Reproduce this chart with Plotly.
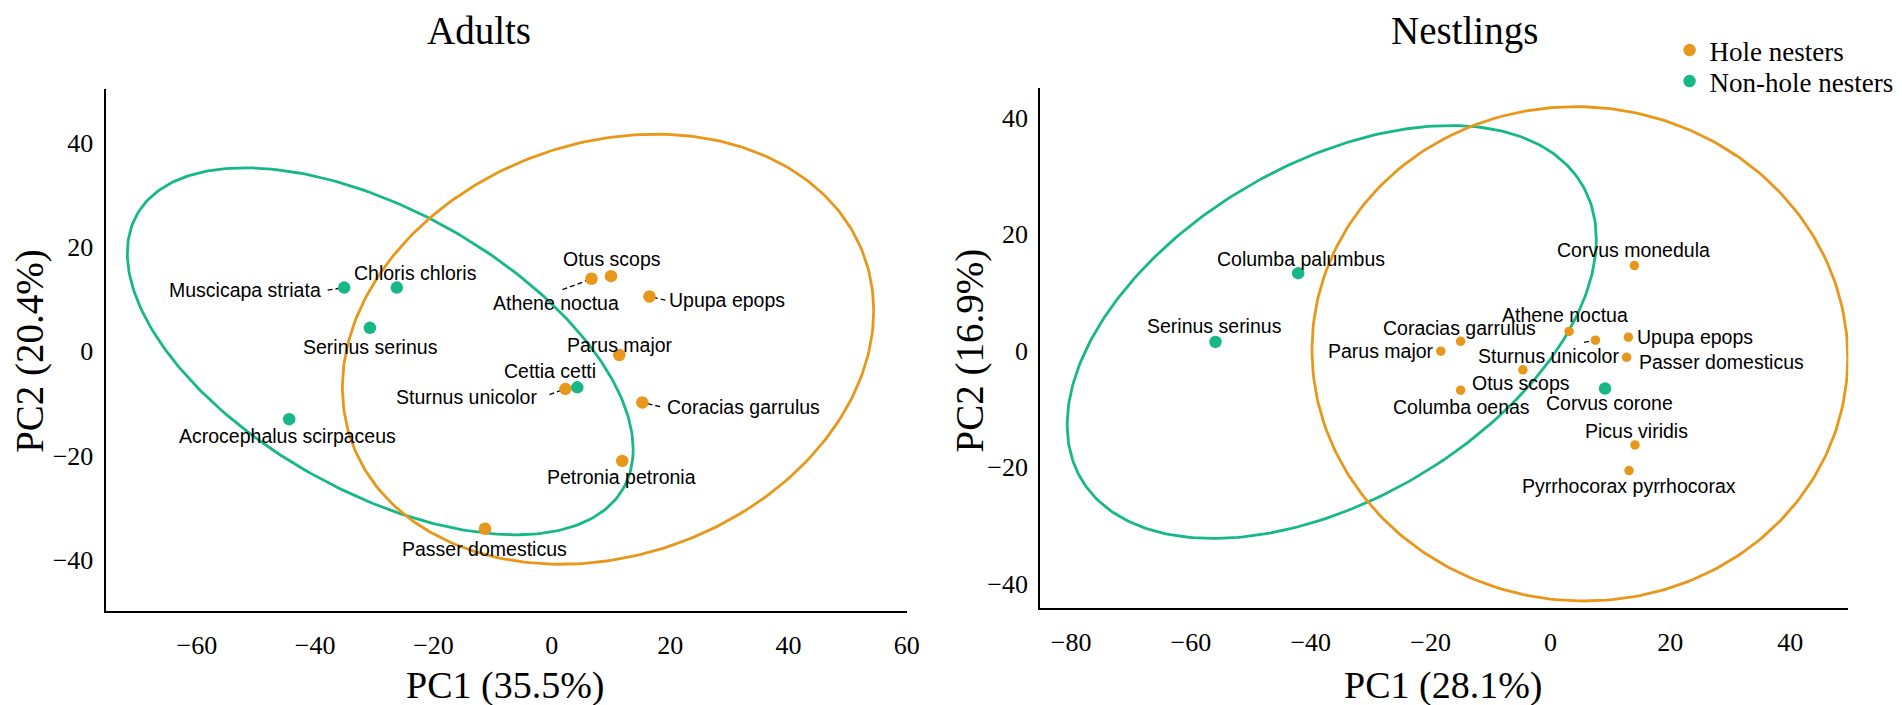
import numpy as np
import plotly.graph_objects as go

# ---------------- data ----------------
adult_hole_species = ["Athene noctua", "Otus scops", "Upupa epops", "Parus major",
                      "Sturnus unicolor", "Coracias garrulus", "Petronia petronia",
                      "Passer domesticus"]
adult_hole_pc1 = [6.7, 10.0, 16.5, 11.4, 2.3, 15.3, 11.9, -11.3]
adult_hole_pc2 = [13.9, 14.4, 10.5, -0.7, -7.2, -9.8, -21.0, -34.0]

adult_non_species = ["Muscicapa striata", "Chloris chloris", "Serinus serinus",
                     "Acrocephalus scirpaceus", "Cettia cetti"]
adult_non_pc1 = [-35.1, -26.2, -30.75, -44.4, 4.3]
adult_non_pc2 = [12.2, 12.2, 4.5, -13.0, -6.9]

nest_hole_species = ["Corvus monedula", "Athene noctua", "Sturnus unicolor", "Upupa epops",
                     "Passer domesticus", "Coracias garrulus", "Parus major", "Otus scops",
                     "Columba oenas", "Picus viridis", "Pyrrhocorax pyrrhocorax"]
nest_hole_pc1 = [14.0, 3.1, 7.5, 13.0, 12.7, -15.0, -18.3, -4.6, -15.0, 14.1, 13.1]
nest_hole_pc2 = [14.6, 3.3, 1.8, 2.3, -1.15, 1.6, -0.1, -3.3, -6.8, -16.2, -20.6]

nest_non_species = ["Columba palumbus", "Serinus serinus", "Corvus corone"]
nest_non_pc1 = [-42.1, -55.9, 9.1]
nest_non_pc2 = [13.3, 1.5, -6.5]

# ellipse estimates: centre x, centre y, var x, var y, cov xy
adult_hole_ellipse = [9.5, 0.4, 2016.0, 1697.0, 330.0]
adult_non_ellipse = [-29.0, 0.0, 1827.6, 1235.5, -803.7]
nest_hole_ellipse = [4.9, -0.55, 1998.0, 1802.0, -30.0]
nest_non_ellipse = [-36.5, 3.2, 1949.0, 1257.0, 703.0]

group_names = ["Hole nesters", "Non-hole nesters"]
panel_titles = ["Adults", "Nestlings"]
x_titles = ["PC1 (35.5%)", "PC1 (28.1%)"]
y_titles = ["PC2 (20.4%)", "PC2 (16.9%)"]
x_ticks = [[-60, -40, -20, 0, 20, 40, 60], [-80, -60, -40, -20, 0, 20, 40]]
y_ticks = [[-40, -20, 0, 20, 40], [-40, -20, 0, 20, 40]]

# ---------------- label placement (style) ----------------
adult_label_pos = {
    "Muscicapa striata": (-51.9, 11.7), "Chloris chloris": (-23.1, 15.0),
    "Serinus serinus": (-30.6, 0.9), "Acrocephalus scirpaceus": (-44.6, -16.2),
    "Cettia cetti": (-0.25, -3.8), "Sturnus unicolor": (-14.4, -8.8),
    "Otus scops": (10.1, 17.6), "Athene noctua": (0.7, 9.2),
    "Upupa epops": (29.6, 9.8), "Parus major": (11.5, 1.2),
    "Coracias garrulus": (32.4, -10.6), "Petronia petronia": (11.75, -24.1),
    "Passer domesticus": (-11.3, -37.8),
}
adult_leader_start = {
    "Muscicapa striata": (-37.9, 11.7), "Sturnus unicolor": (-0.4, -8.3),
    "Athene noctua": (1.8, 11.8), "Upupa epops": (19.2, 9.8),
    "Coracias garrulus": (18.3, -10.6),
}
nest_label_pos = {
    "Columba palumbus": (-41.7, 15.8), "Serinus serinus": (-56.1, 4.2),
    "Corvus corone": (9.9, -9.0), "Corvus monedula": (13.8, 17.2),
    "Athene noctua": (2.4, 6.2), "Sturnus unicolor": (-0.35, -1.0),
    "Upupa epops": (24.1, 2.3), "Passer domesticus": (28.6, -1.96),
    "Coracias garrulus": (-15.1, 3.8), "Parus major": (-28.2, -0.1),
    "Otus scops": (-5.0, -5.6), "Columba oenas": (-14.9, -9.6),
    "Picus viridis": (14.3, -13.8), "Pyrrhocorax pyrrhocorax": (13.1, -23.2),
}
nest_leader_start = {"Sturnus unicolor": (5.6, 1.4)}

ORANGE = "#E8971A"
GREEN = "#17B887"
SERIF = "Liberation Serif, Times New Roman, serif"
SANS = "Liberation Sans, Arial, sans-serif"
W, H = 1902, 705


def ellipse_xy(p, n=300):
    cx, cy, sxx, syy, sxy = p
    L = np.linalg.cholesky(np.array([[sxx, sxy], [sxy, syy]]))
    t = np.linspace(0, 2 * np.pi, n)
    pts = L @ np.vstack([np.cos(t), np.sin(t)])
    return cx + pts[0], cy + pts[1]


fig = go.Figure()

panels = [
    dict(xa="x", ya="y", hole=(adult_hole_species, adult_hole_pc1, adult_hole_pc2),
         non=(adult_non_species, adult_non_pc1, adult_non_pc2),
         eh=adult_hole_ellipse, en=adult_non_ellipse,
         lab=adult_label_pos, lead=adult_leader_start, ms_hole=12.5, ms_non=12.5, legend=True),
    dict(xa="x2", ya="y2", hole=(nest_hole_species, nest_hole_pc1, nest_hole_pc2),
         non=(nest_non_species, nest_non_pc1, nest_non_pc2),
         eh=nest_hole_ellipse, en=nest_non_ellipse,
         lab=nest_label_pos, lead=nest_leader_start, ms_hole=9.5, ms_non=12.5, legend=False),
]

annotations = []
for p in panels:
    for ell, col in ((p["en"], GREEN), (p["eh"], ORANGE)):
        ex, ey = ellipse_xy(ell)
        fig.add_trace(go.Scatter(x=ex, y=ey, mode="lines", xaxis=p["xa"], yaxis=p["ya"],
                                 line=dict(color=col, width=2.8), showlegend=False,
                                 hoverinfo="skip"))
    pts = {}
    for sp, xs, ys in (p["hole"], p["non"]):
        for s, x, y in zip(sp, xs, ys):
            pts[s] = (x, y)
    for s, (x0, y0) in p["lead"].items():
        x1, y1 = pts[s]
        fig.add_trace(go.Scatter(x=[x0, x1], y=[y0, y1], mode="lines", xaxis=p["xa"],
                                 yaxis=p["ya"], line=dict(color="black", width=1.3, dash="5px,3px"),
                                 showlegend=False, hoverinfo="skip"))
    for (sp, xs, ys), col, name, ms, lg in ((p["hole"], ORANGE, group_names[0], p["ms_hole"], "legend"),
                                            (p["non"], GREEN, group_names[1], p["ms_non"], "legend2")):
        fig.add_trace(go.Scatter(x=xs, y=ys, mode="markers", xaxis=p["xa"], yaxis=p["ya"],
                                 marker=dict(color=col, size=ms), name=name, text=sp,
                                 showlegend=p["legend"], legend=lg))
    for s, (lx, ly) in p["lab"].items():
        annotations.append(dict(x=lx, y=ly, xref=p["xa"], yref=p["ya"], text=s,
                                showarrow=False, font=dict(family=SANS, size=19.5, color="black"),
                                xanchor="center", yanchor="middle"))


def paper(px, py):
    return px / W, 1 - py / H


for txt, px in zip(panel_titles, [474, 1467]):
    x, y = paper(px, 0)
    annotations.append(dict(x=x, y=y, xref="paper", yref="paper", text=txt, showarrow=False,
                            font=dict(family=SERIF, size=39, color="black"),
                            xanchor="center", yanchor="top", borderpad=0))
for txt, (px, py) in zip(x_titles, [(500, 677), (1445, 677)]):
    x, y = paper(px, py)
    annotations.append(dict(x=x, y=y, xref="paper", yref="paper", text=txt, showarrow=False,
                            font=dict(family=SERIF, size=38, color="black"),
                            xanchor="center", yanchor="middle"))
for txt, (px, py) in zip(y_titles, [(22, 343), (969, 342)]):
    x, y = paper(px, py)
    annotations.append(dict(x=x, y=y, xref="paper", yref="paper", text=txt, showarrow=False,
                            textangle=-90, font=dict(family=SERIF, size=39, color="black"),
                            xanchor="center", yanchor="middle"))

axis_common = dict(showgrid=False, zeroline=False, showline=True, linecolor="black",
                   linewidth=1.6, ticks="", tickfont=dict(family=SERIF, size=26, color="black"))

legend_common = dict(xanchor="left", yanchor="top", bgcolor="rgba(0,0,0,0)",
                     font=dict(family=SERIF, size=27, color="black"), itemwidth=30)

fig.update_layout(
    width=W, height=H,
    margin=dict(l=0, r=0, t=0, b=0),
    paper_bgcolor="white", plot_bgcolor="white",
    xaxis=dict(domain=[99 / W, 905 / W], range=[-75.3, 60.0], tickvals=x_ticks[0],
               anchor="y", ticklabelstandoff=10, **axis_common),
    yaxis=dict(domain=[1 - 603 / H, 1 - 81 / H], range=[-49.75, 50.25], tickvals=y_ticks[0],
               anchor="x", ticklabelstandoff=6, **axis_common),
    xaxis2=dict(domain=[1039 / W, 1853 / W], range=[-85.2, 49.7], tickvals=x_ticks[1],
                anchor="y2", ticklabelstandoff=10, **axis_common),
    yaxis2=dict(domain=[1 - 600 / H, 1 - 80 / H], range=[-44.2, 45.1], tickvals=y_ticks[1],
                anchor="x2", ticklabelstandoff=5, **axis_common),
    annotations=annotations,
    showlegend=True,
    legend=dict(x=(1693 - 20) / W, y=1 - 18 / H, **legend_common),
    legend2=dict(x=(1693 - 20) / W, y=1 - 49 / H, **legend_common),
)

fig.write_html("out.html")
